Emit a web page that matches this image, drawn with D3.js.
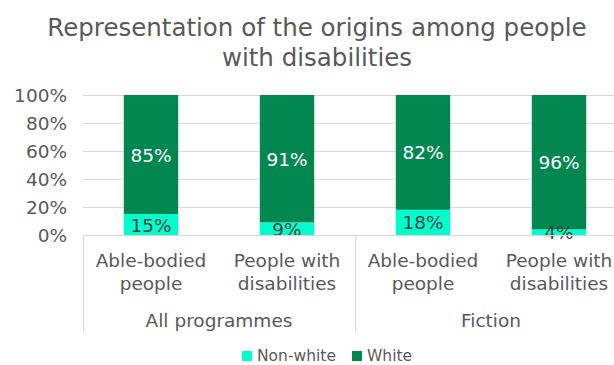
<!DOCTYPE html>
<html>
<head>
<meta charset="utf-8">
<script src="https://cdn.jsdelivr.net/npm/d3@7"></script>
<style>
  html, body { margin: 0; padding: 0; background: #fff; }
  svg { display: block; font-family: "DejaVu Sans", Verdana, sans-serif; }
</style>
</head>
<body>
<svg id="chart" width="614" height="365"></svg>
<script>
// Chart data
const titleLines = ["Representation of the origins among people", "with disabilities"];
const categories = ["Able-bodied people", "People with disabilities", "Able-bodied people", "People with disabilities"];
const categoryLines = [["Able-bodied", "people"], ["People with", "disabilities"], ["Able-bodied", "people"], ["People with", "disabilities"]];
const groups = ["All programmes", "Fiction"];
const groupOf = [0, 0, 1, 1];
const seriesNames = ["Non-white", "White"];
const nonWhite = [15, 9, 18, 4];
const white = [85, 91, 82, 96];
const yTicks = [0, 20, 40, 60, 80, 100];
const seriesColors = ["#00FFCC", "#038751"];
const labelColors = ["#404040", "#ffffff"];

const svg = d3.select("#chart");
const textColor = "#595959";
const gridColor = "#d9d9d9";
const fontSize = 18.5;

// Plot area
const plotLeft = 83, plotRight = 627, plotTop = 95, plotBottom = 235;

const x = d3.scaleBand().domain(d3.range(categories.length)).range([plotLeft, plotRight])
  .paddingInner(0.6).paddingOuter(0.3);
const y = d3.scaleLinear().domain([0, 100]).range([plotBottom, plotTop]);

// Title
svg.append("g").selectAll("text").data(titleLines).join("text")
  .attr("x", 317).attr("y", (d, i) => 36 + i * 30)
  .attr("text-anchor", "middle")
  .attr("font-size", 24.5)
  .attr("fill", textColor)
  .text(d => d);

// Gridlines
svg.append("g").selectAll("line").data(yTicks).join("line")
  .attr("x1", plotLeft).attr("x2", plotRight)
  .attr("y1", d => Math.round(y(d)) + 0.5).attr("y2", d => Math.round(y(d)) + 0.5)
  .attr("stroke", gridColor).attr("stroke-width", 1);

// Y axis labels
const yAxis = d3.axisLeft(y).tickValues(yTicks).tickSize(0).tickPadding(0)
  .tickFormat(d => d + "%");
const yg = svg.append("g").attr("transform", `translate(67,0)`).call(yAxis);
yg.select(".domain").remove();
yg.selectAll("text").attr("font-size", fontSize).attr("fill", textColor)
  .attr("font-family", "DejaVu Sans, Verdana, sans-serif").attr("dy", "0.36em");

// Stacked bars
const stackData = categories.map((c, i) => ({ i, "Non-white": nonWhite[i], "White": white[i] }));
const stacked = d3.stack().keys(seriesNames)(stackData);

const layers = svg.append("g").selectAll("g").data(stacked).join("g")
  .attr("fill", (d, k) => seriesColors[k]);
layers.selectAll("rect").data(d => d).join("rect")
  .attr("x", d => x(d.data.i))
  .attr("width", x.bandwidth())
  .attr("y", d => y(d[1]))
  .attr("height", d => y(d[0]) - y(d[1]));

// Value labels, centred in each segment
stacked.forEach((layer, k) => {
  svg.append("g").selectAll("text").data(layer).join("text")
    .attr("x", d => x(d.data.i) + x.bandwidth() / 2)
    .attr("y", d => y((d[0] + d[1]) / 2))
    .attr("dy", "0.38em")
    .attr("text-anchor", "middle")
    .attr("font-size", fontSize)
    .attr("fill", labelColors[k])
    .text(d => (d[1] - d[0]) + "%");
});

// Category axis: baseline and group separators
svg.append("line").attr("x1", plotLeft).attr("x2", plotRight)
  .attr("y1", plotBottom + 0.5).attr("y2", plotBottom + 0.5)
  .attr("stroke", gridColor);
const sepX = [plotLeft, plotLeft + x.step() * 2, plotRight];
svg.append("g").selectAll("line").data(sepX).join("line")
  .attr("x1", d => Math.round(d) + 0.5).attr("x2", d => Math.round(d) + 0.5)
  .attr("y1", plotBottom).attr("y2", 332)
  .attr("stroke", gridColor);

// Category labels (two lines each)
const catG = svg.append("g").selectAll("text").data(categoryLines).join("text")
  .attr("text-anchor", "middle")
  .attr("font-size", fontSize)
  .attr("fill", textColor);
catG.selectAll("tspan").data((d, i) => d.map(t => ({ t, i }))).join("tspan")
  .attr("x", d => x(d.i) + x.bandwidth() / 2)
  .attr("y", (d, j) => 267 + j * 23)
  .text(d => d.t);

// Group labels
svg.append("g").selectAll("text").data(groups).join("text")
  .attr("x", (d, g) => {
    const idx = d3.range(categories.length).filter(i => groupOf[i] === g);
    return (x(idx[0]) + x(idx[idx.length - 1]) + x.bandwidth()) / 2;
  })
  .attr("y", 327)
  .attr("text-anchor", "middle")
  .attr("font-size", fontSize)
  .attr("fill", textColor)
  .text(d => d);

// Legend
const legendX = [242, 352];
const lg = svg.append("g").selectAll("g").data(seriesNames).join("g")
  .attr("transform", (d, k) => `translate(${legendX[k]},351)`);
lg.append("rect").attr("width", 10).attr("height", 10).attr("fill", (d, k) => seriesColors[k]);
lg.append("text").attr("x", 15).attr("y", 10)
  .attr("font-size", 15.5).attr("fill", textColor).text(d => d);
</script>
</body>
</html>
